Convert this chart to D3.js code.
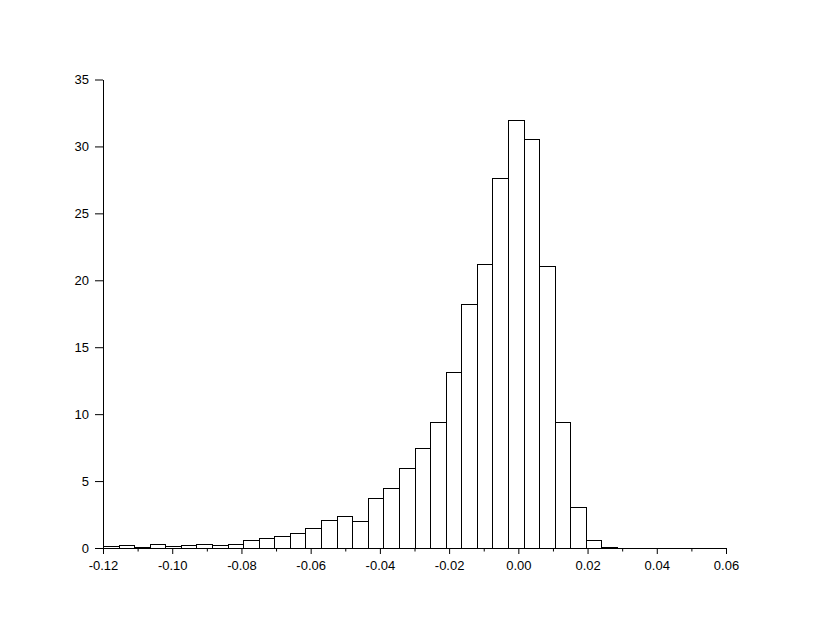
<!DOCTYPE html>
<html>
<head>
<meta charset="utf-8">
<script src="https://cdn.jsdelivr.net/npm/d3@7"></script>
<style>
  html, body { margin: 0; padding: 0; background: #fff; }
  svg { display: block; }
  .axis text { font-family: "Liberation Sans", Arial, sans-serif; font-size: 13px; fill: #000; }
  .axis path, .axis line { stroke: #000; }
</style>
</head>
<body>
<svg id="chart" width="830" height="626"></svg>
<script>
// Histogram bin left edges (bin width 0.0045)
const binLeft = [-0.12, -0.1155, -0.111, -0.1065, -0.102, -0.0975, -0.093, -0.0885, -0.084, -0.0795,
  -0.075, -0.0705, -0.066, -0.0615, -0.057, -0.0525, -0.048, -0.0435, -0.039, -0.0345,
  -0.03, -0.0255, -0.021, -0.0165, -0.012, -0.0075, -0.003, 0.0015, 0.006, 0.0105,
  0.015, 0.0195, 0.024, 0.0285, 0.033, 0.0375, 0.042, 0.0465, 0.051, 0.0555];
const binWidth = 0.0045;
// Bar heights (density)
const counts = [0.13, 0.24, 0.10, 0.33, 0.17, 0.25, 0.32, 0.26, 0.32, 0.62,
  0.76, 0.87, 1.10, 1.47, 2.12, 2.36, 2.05, 3.70, 4.45, 6.00,
  7.50, 9.45, 13.15, 18.25, 21.20, 27.65, 31.95, 30.55, 21.10, 9.40,
  3.05, 0.58, 0.10, 0, 0, 0, 0, 0, 0, 0];
const xMajorTicks = [-0.12, -0.10, -0.08, -0.06, -0.04, -0.02, 0.00, 0.02, 0.04, 0.06];
const xMinorTicks = [-0.11, -0.09, -0.07, -0.05, -0.03, -0.01, 0.01, 0.03, 0.05];
const yTicks = [0, 5, 10, 15, 20, 25, 30, 35];

const svg = d3.select("#chart");
const x = d3.scaleLinear().domain([-0.12, 0.06]).range([103, 726]);
const y = d3.scaleLinear().domain([0, 35]).range([548, 79.5]);

const bars = binLeft.map((b, i) => ({ x0: b, x1: b + binWidth, v: counts[i] })).filter(d => d.v > 0);

svg.append("g").selectAll("rect").data(bars).join("rect")
  .attr("x", d => Math.round(x(d.x0)) + 0.5)
  .attr("width", d => Math.round(x(d.x1)) - Math.round(x(d.x0)))
  .attr("y", d => Math.round(y(d.v)) + 0.5)
  .attr("height", d => Math.round(y(0)) - Math.round(y(d.v)))
  .attr("fill", "#fff")
  .attr("stroke", "#000")
  .attr("stroke-width", 1);

// x axis
const xAxis = svg.append("g").attr("class", "axis")
  .attr("transform", `translate(0,${Math.round(y(0))})`)
  .call(d3.axisBottom(x).tickValues(xMajorTicks).tickSize(6).tickPadding(7).tickSizeOuter(0)
    .tickFormat(d3.format(".2f")));
xAxis.selectAll("text").text(d => d3.format(".2f")(d).replace("−", "-"));

svg.append("g").attr("class", "axis")
  .attr("transform", `translate(0,${Math.round(y(0))})`)
  .call(d3.axisBottom(x).tickValues(xMinorTicks).tickSize(3.5).tickFormat("").tickSizeOuter(0))
  .select(".domain").remove();

// y axis
svg.append("g").attr("class", "axis")
  .attr("transform", `translate(${Math.round(x(-0.12))},0)`)
  .call(d3.axisLeft(y).tickValues(yTicks).tickSize(8).tickPadding(6).tickSizeOuter(0)
    .tickFormat(d3.format("d")));
</script>
</body>
</html>
